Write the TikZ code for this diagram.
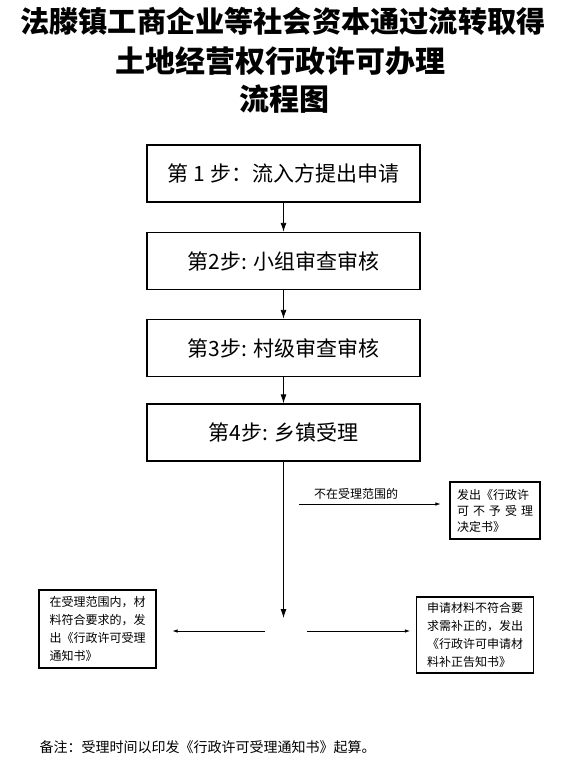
\documentclass[tikz,border=0pt]{standalone}
\usepackage{fontspec}
\setmainfont{Noto Sans CJK SC}
\usetikzlibrary{arrows.meta}
\begin{document}
\begin{tikzpicture}[x=1pt,y=-1pt,
  stepbox/.style={draw,line width=1.4pt,minimum width=273pt,minimum height=57pt,inner sep=0pt,font=\fontsize{21}{21}\selectfont},
  smallbox/.style={draw,line width=1.1pt,inner sep=0pt,align=left,font=\fontsize{12}{18}\selectfont},
  link/.style={line width=0.9pt,-{Latex[length=9pt,width=6pt]}},
  side/.style={line width=0.7pt,-{Latex[length=5pt,width=3.5pt]}},
  ttl/.style={font=\bfseries\fontsize{30}{30}\selectfont}]
\useasboundingbox (0,0) rectangle (566,782);
% title
\node[ttl,font=\bfseries\fontsize{29.2}{29.2}\selectfont] (t1) at (283,21) {法滕镇工商企业等社会资本通过流转取得};
\node[ttl] (t2) at (280,61) {土地经营权行政许可办理};
\node[ttl] (t3) at (284,99) {流程图};
% steps
\node[stepbox] (s1) at (283.5,173.5) {第 1 步：流入方提出申请};
\node[stepbox] (s2) at (283.5,261) {第2步: 小组审查审核};
\node[stepbox] (s3) at (283.5,348) {第3步: 村级审查审核};
\node[stepbox] (s4) at (283.5,432.5) {第4步: 乡镇受理};
\draw[link] (s1) -- (s2);
\draw[link] (s2) -- (s3);
\draw[link] (s3) -- (s4);
% branch
\coordinate (m) at (283.5,618);
\draw[link] (s4.south) -- (m);
\coordinate (ra) at (299,504);
\node[smallbox,minimum width=90pt,minimum height=57pt,font=\fontsize{12}{16}\selectfont] (no) at (495,510.5)
  {发出《行政许\\可\,\,不\,\,予\,\,受\,\,理\\决定书》};
\draw[side] (ra) -- ([xshift=-9pt]no.west |- ra);
\node[font=\fontsize{12}{12}\selectfont] (nol) at (356,494) {不在受理范围的};
\coordinate (la) at (265,631);
\coordinate (rb) at (307,631);
\node[smallbox,minimum width=117pt,minimum height=78pt] (ok) at (97.5,629)
  {在受理范围内，材\\料符合要求的，发\\出《行政许可受理\\通知书》};
\node[smallbox,minimum width=117pt,minimum height=76pt] (fix) at (475,635)
  {申请材料不符合要\\求需补正的，发出\\《行政许可申请材\\料补正告知书》};
\draw[side] (la) -- ([xshift=16pt]ok.east |- la);
\draw[side] (rb) -- ([xshift=-6pt]fix.west |- rb);
% note
\node[anchor=west,font=\fontsize{14}{14}\selectfont] (note) at (36,747)
  {备注：受理时间以印发《行政许可受理通知书》起算。};
\end{tikzpicture}
\end{document}
